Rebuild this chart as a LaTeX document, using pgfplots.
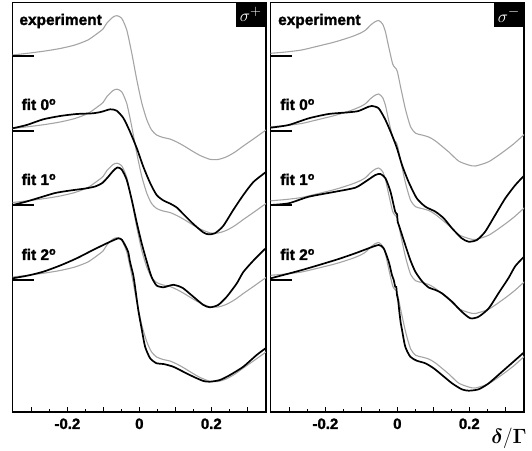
\documentclass[border=0pt]{standalone}
\usepackage{amsmath}
\usepackage{fontspec}
\setmainfont{Liberation Sans}
\usepackage{pgfplots}
\usepackage{pgfplotstable}
\pgfplotsset{compat=1.18}

\definecolor{expgray}{RGB}{165,165,165}

% sigma+ panel
\pgfplotstableread{
x y
-0.352 357
-0.304 359
-0.262 361
-0.220 363.5
-0.179 367
-0.143 372
-0.115 379
-0.101 383
-0.090 389
-0.073 395
-0.062 396.3
-0.049 393.7
-0.035 382
-0.021 358.7
-0.007 332
0.007 308.7
0.021 292
0.034 282
0.048 277
0.066 274.5
0.085 273
0.104 270
0.122 266.5
0.150 260.3
0.169 256.5
0.196 252.7
0.219 252.5
0.243 255.3
0.266 260
0.289 266
0.321 274
0.352 282
}\plusexp
\pgfplotstableread{
x y
-0.352 283.7
-0.313 287
-0.267 292.7
-0.220 296
-0.174 298
-0.128 298.7
-0.104 300.3
-0.081 302.7
-0.063 301.3
-0.044 293.7
-0.026 280.3
-0.007 263.7
0.011 245.3
0.030 229
0.048 217
0.067 211.5
0.085 208.5
0.104 204.5
0.122 198
0.150 188
0.178 179.5
0.192 177.7
0.210 178.7
0.233 186
0.261 202
0.289 217
0.317 230
0.352 240
}\plusfita
\pgfplotstableread{
x y
-0.352 207
-0.318 210
-0.276 214.5
-0.234 219
-0.192 221.5
-0.150 223.5
-0.123 225.5
-0.103 229
-0.087 235
-0.073 241
-0.061 244.5
-0.049 242.5
-0.035 232
-0.021 212
-0.007 189
0.007 168
0.021 150
0.034 135
0.048 126.5
0.067 124.7
0.080 126
0.094 127.2
0.108 126
0.122 123.7
0.150 115.3
0.178 107
0.196 104.7
0.219 107
0.243 115.3
0.271 128.7
0.289 140
0.321 153
0.352 164
}\plusfitb
\pgfplotstableread{
x y
-0.352 133.7
-0.309 136.5
-0.267 140.3
-0.220 146.5
-0.174 153.7
-0.137 160.5
-0.109 165.5
-0.081 170.3
-0.058 173.7
-0.048 172
-0.040 167
-0.031 160
-0.026 150.3
-0.017 137
-0.012 125.3
-0.003 102
0.007 82
0.016 65.3
0.030 53.7
0.048 48.7
0.067 48
0.094 45.3
0.122 40.3
0.150 35.3
0.178 31
0.196 30.3
0.224 32
0.252 37
0.289 45.3
0.326 57
0.352 64
}\plusfitc

% sigma- panel
\pgfplotstableread{
x y
-0.352 358.7
-0.310 360
-0.266 362
-0.219 366
-0.171 370.3
-0.127 375.3
-0.102 379
-0.088 382
-0.074 387
-0.063 390
-0.052 391.5
-0.041 388
-0.033 380
-0.027 370
-0.019 357
-0.013 348
-0.008 345
-0.003 343
0.001 339
0.009 325
0.023 302
0.037 285
0.051 278.7
0.068 277
0.087 275
0.106 271
0.143 260
0.170 251
0.198 247
0.217 246
0.254 250.3
0.290 259
0.323 268
0.354 278
}\minusexp
\pgfplotstableread{
x y
-0.352 284.3
-0.302 287
-0.246 293.7
-0.191 298
-0.135 299.7
-0.108 301
-0.080 305.3
-0.071 306
-0.052 303.7
-0.033 292
-0.015 277
-0.001 263.7
0.013 247
0.031 230.3
0.054 213.7
0.078 205.3
0.106 200.3
0.129 193.7
0.152 183.7
0.179 173.7
0.198 170.3
0.221 172
0.244 180.3
0.272 197
0.300 213.7
0.328 227
0.354 237
}\minusfita
\pgfplotstableread{
x y
-0.352 207
-0.302 208.7
-0.246 215.3
-0.172 220.3
-0.117 224.3
-0.089 230.3
-0.061 237
-0.047 238
-0.033 233.7
-0.019 220.3
-0.006 200.3
-0.001 198
0.001 190
0.005 186
0.013 177
0.022 167
0.036 152
0.050 140.3
0.068 131
0.087 124.5
0.106 122
0.124 118.7
0.152 110.3
0.179 100.3
0.203 93.7
0.226 95.3
0.254 103.7
0.281 118.7
0.309 134
0.328 146
0.354 156
}\minusfitb
\pgfplotstableread{
x y
-0.352 133.7
-0.265 142
-0.172 152
-0.117 158.7
-0.080 163.7
-0.052 167
-0.038 163.7
-0.024 150.3
-0.015 137
-0.010 132
-0.006 125.3
-0.003 125
-0.001 117
0.002 112
0.006 98.7
0.007 96
0.009 90
0.013 82
0.022 65.3
0.036 55.3
0.054 51.3
0.078 48.7
0.101 43.7
0.124 37
0.152 28.7
0.179 22.7
0.198 21.3
0.226 22.7
0.254 28.7
0.291 40.3
0.328 52
0.354 60.3
}\minusfitc

\newfontfamily\heavy[FakeBold=1.6]{Liberation Sans Bold}

\pgfplotsset{
  panel/.style={
    scale only axis, width=253.3bp, height=409.5bp,
    xmin=-0.352, xmax=0.352, ymin=0, ymax=409.5,
    axis line style={line width=1.5bp},
    xtick={-0.3,-0.2,-0.1,0,0.1,0.2,0.3},
    xticklabels={{},-0.2,{},0,{},0.2,{}},
    minor xtick={-0.25,-0.15,-0.05,0.05,0.15,0.25},
    ytick=\empty,
    tick align=inside, xtick pos=left,
    major tick length=4.5bp, minor tick length=2.5bp,
    tick style={black, line width=1bp},
    xticklabel style={font=\fontsize{15}{15}\selectfont\heavy, yshift=-3bp},
  },
  expc/.style={color=expgray, line width=1.1bp, smooth, tension=0.4, no markers},
  fitc/.style={black, line width=1.7bp, smooth, tension=0.4, no markers},
  basec/.style={black, line width=1.5bp, no markers},
}
\tikzset{
  lab/.style={anchor=base west, font=\fontsize{15.5}{15.5}\selectfont\heavy},
  sig/.style={fill=black, text=white, anchor=north east, minimum width=30bp,
    minimum height=24bp, inner sep=0pt, font=\fontsize{19}{19}\selectfont},
}

\begin{document}
\begin{tikzpicture}
\useasboundingbox (0,0) rectangle (532bp,451bp);

\begin{axis}[panel, at={(12.7bp,39bp)}, anchor=south west]
\addplot[expc] table {\plusexp};
\addplot[expc] table[y expr=\thisrow{y}-73.5] {\plusexp};
\addplot[expc] table[y expr=\thisrow{y}-147.5] {\plusexp};
\addplot[expc] table[y expr=\thisrow{y}-222] {\plusexp};
\addplot[fitc] table {\plusfita};
\addplot[fitc] table {\plusfitb};
\addplot[fitc] table {\plusfitc};
\addplot[basec] coordinates {(-0.352,356) (-0.292,356)};
\addplot[basec] coordinates {(-0.352,281) (-0.292,281)};
\addplot[basec] coordinates {(-0.352,207) (-0.292,207)};
\addplot[basec] coordinates {(-0.352,132) (-0.292,132)};
\node[lab] at (axis cs:-0.343,387) {experiment};
\node[lab] at (axis cs:-0.337,302) {fit 0\textsuperscript{o}};
\node[lab] at (axis cs:-0.337,227) {fit 1\textsuperscript{o}};
\node[lab] at (axis cs:-0.337,152) {fit 2\textsuperscript{o}};
\node[sig] at (rel axis cs:1,1) {$\sigma^{+}$};
\end{axis}

\begin{axis}[panel, at={(270.7bp,39bp)}, anchor=south west]
\addplot[expc] table {\minusexp};
\addplot[expc] table[y expr=\thisrow{y}-73.5] {\minusexp};
\addplot[expc] table[y expr=\thisrow{y}-147.5] {\minusexp};
\addplot[expc] table[y expr=\thisrow{y}-222] {\minusexp};
\addplot[fitc] table {\minusfita};
\addplot[fitc] table {\minusfitb};
\addplot[fitc] table {\minusfitc};
\addplot[basec] coordinates {(-0.352,356) (-0.292,356)};
\addplot[basec] coordinates {(-0.352,281) (-0.292,281)};
\addplot[basec] coordinates {(-0.352,207) (-0.292,207)};
\addplot[basec] coordinates {(-0.352,132) (-0.292,132)};
\node[lab] at (axis cs:-0.341,387) {experiment};
\node[lab] at (axis cs:-0.335,302) {fit 0\textsuperscript{o}};
\node[lab] at (axis cs:-0.335,227) {fit 1\textsuperscript{o}};
\node[lab] at (axis cs:-0.335,152) {fit 2\textsuperscript{o}};
\node[sig] at (rel axis cs:1,1) {$\sigma^{-}$};
\end{axis}

\node[font=\fontsize{22}{22}\selectfont] at (509bp,13bp)
  {$\boldsymbol{\delta}/\boldsymbol{\Gamma}$};
\end{tikzpicture}
\end{document}
